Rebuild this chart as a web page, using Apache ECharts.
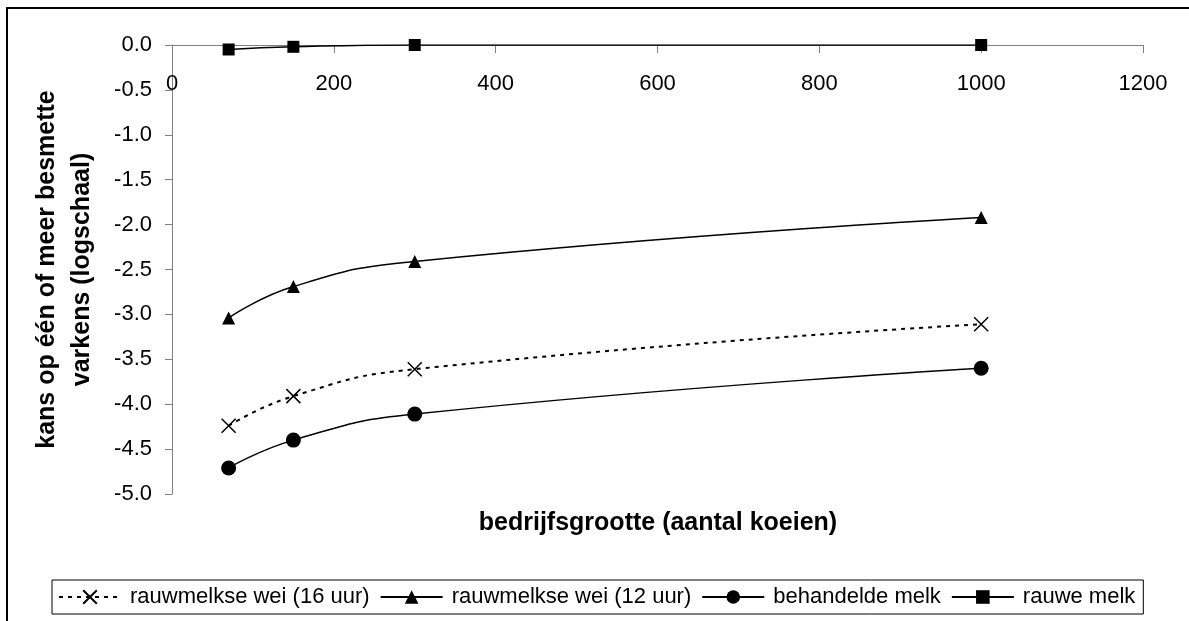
<!DOCTYPE html>
<html>
<head>
<meta charset="utf-8">
<script src="https://cdn.jsdelivr.net/npm/echarts@6/dist/echarts.min.js"></script>
<style>
  html, body { margin: 0; padding: 0; background: #fff; }
  #container { width: 1189px; height: 621px; }
</style>
</head>
<body>
<div id="container"></div>
<script>
var dom = document.getElementById('container');
var myChart = echarts.init(dom, null, { renderer: 'canvas' });

// bedrijfsgrootte (aantal koeien)
var sizes = [70, 150, 300, 1000];
// log10 kans per reeks
var wei16 = [-4.24, -3.91, -3.61, -3.11];
var wei12 = [-3.04, -2.69, -2.41, -1.92];
var behandeld = [-4.71, -4.40, -4.11, -3.60];
var rauw = [-0.05, -0.02, 0.0, 0.0];

function pairs(vals) {
    return sizes.map(function (s, i) { return [s, vals[i]]; });
}

var font = 'Liberation Sans, Arial, sans-serif';
var crossPath = 'path://M0,0L10,10M10,0L0,10';

var option = {
    backgroundColor: '#fff',
    animation: false,
    textStyle: { fontFamily: font, color: '#000' },
    grid: { left: 172, right: 46, top: 45, bottom: 127 },
    graphic: [
        {
            type: 'rect',
            shape: { x: 7, y: 8, width: 1300, height: 800 },
            style: { fill: 'none', stroke: '#000', lineWidth: 2 },
            silent: true,
            z: 0
        },
        {
            type: 'text',
            x: 658,
            y: 523,
            style: {
                text: 'bedrijfsgrootte (aantal koeien)',
                font: 'bold 25px ' + font,
                fill: '#000',
                textAlign: 'center',
                textVerticalAlign: 'middle'
            }
        }
    ],
    legend: {
        left: 52,
        top: 580,
        padding: [6, 8, 6, 6],
        borderColor: '#000',
        borderWidth: 1,
        backgroundColor: '#fff',
        itemWidth: 62,
        itemHeight: 17,
        itemGap: 10,
        textStyle: { fontFamily: font, fontSize: 22, color: '#000', padding: [0, 0, 0, 4] },
        data: ['rauwmelkse wei (16 uur)', 'rauwmelkse wei (12 uur)', 'behandelde melk', 'rauwe melk']
    },
    xAxis: {
        type: 'value',
        position: 'top',
        min: 0,
        max: 1200,
        interval: 200,
        axisLine: { onZero: false, lineStyle: { color: '#808080', width: 1 } },
        axisTick: { show: true, inside: true, length: 8, lineStyle: { color: '#808080' } },
        axisLabel: {
            inside: true, fontSize: 22, color: '#000', margin: 28, fontFamily: font,
            formatter: function (v) { return String(v); }
        },
        splitLine: { show: false }
    },
    yAxis: {
        type: 'value',
        min: -5,
        max: 0,
        interval: 0.5,
        name: 'kans op één of meer besmette\nvarkens (logschaal)',
        nameLocation: 'middle',
        nameGap: 72,
        nameTextStyle: { fontSize: 25, fontWeight: 'bold', color: '#000', fontFamily: font, lineHeight: 35 },
        axisLine: { show: true, onZero: false, lineStyle: { color: '#808080', width: 1 } },
        axisTick: { show: true, length: 7, lineStyle: { color: '#808080' } },
        axisLabel: {
            fontSize: 22, color: '#000', margin: 20, fontFamily: font,
            formatter: function (v) { return v.toFixed(1); }
        },
        splitLine: { show: false }
    },
    series: [
        {
            name: 'rauwmelkse wei (16 uur)',
            type: 'line',
            smooth: 0.5,
            data: pairs(wei16),
            symbol: crossPath,
            symbolSize: 14,
            itemStyle: { color: '#000', borderColor: '#000', borderWidth: 1.5 },
            lineStyle: { color: '#000', width: 2, type: [4, 5] }
        },
        {
            name: 'rauwmelkse wei (12 uur)',
            type: 'line',
            smooth: 0.5,
            data: pairs(wei12),
            symbol: 'triangle',
            symbolSize: 13,
            itemStyle: { color: '#000' },
            lineStyle: { color: '#000', width: 1.5 }
        },
        {
            name: 'behandelde melk',
            type: 'line',
            smooth: 0.5,
            data: pairs(behandeld),
            symbol: 'circle',
            symbolSize: 15,
            itemStyle: { color: '#000' },
            lineStyle: { color: '#000', width: 1.5 }
        },
        {
            name: 'rauwe melk',
            type: 'line',
            smooth: 0.5,
            data: pairs(rauw),
            symbol: 'rect',
            symbolSize: 12,
            itemStyle: { color: '#000' },
            lineStyle: { color: '#000', width: 1.5 }
        }
    ]
};

if (option && typeof option === 'object') {
    myChart.setOption(option);
}

window.addEventListener('resize', myChart.resize);
</script>
</body>
</html>
